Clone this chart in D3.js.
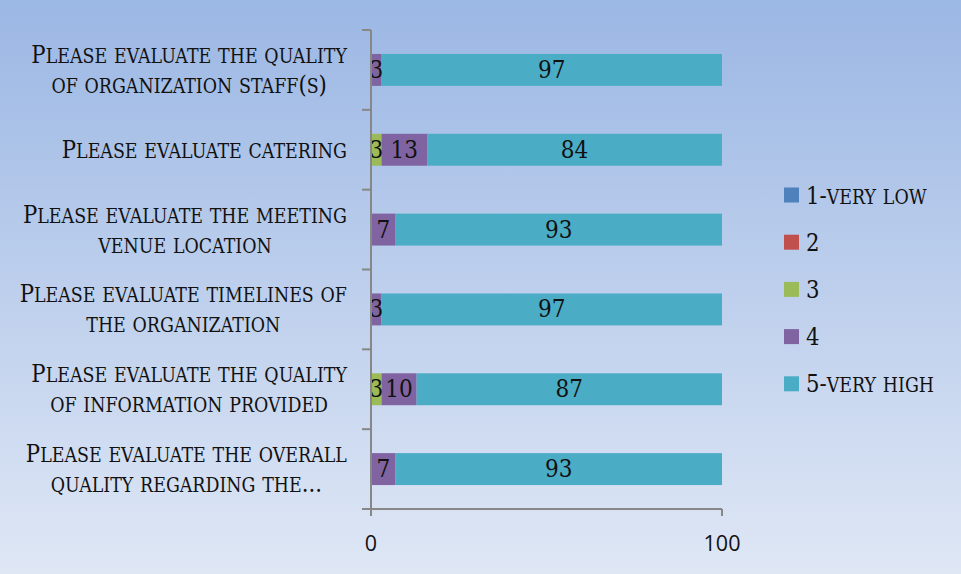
<!DOCTYPE html>
<html>
<head>
<meta charset="utf-8">
<script src="https://cdn.jsdelivr.net/npm/d3@7/dist/d3.min.js"></script>
<style>
  html, body { margin: 0; padding: 0; background: #fff; }
  svg { display: block; }
</style>
</head>
<body>
<svg id="chart" width="961" height="574"></svg>
<script>
// ---- data ----
const categories = [
  "Please evaluate the quality\nof organization staff(s)",
  "Please evaluate catering",
  "Please evaluate the meeting\nvenue location",
  "Please evaluate timelines of\nthe organization",
  "Please evaluate the quality\nof information provided",
  "Please evaluate the overall\nquality regarding the..."
];
const seriesNames = ["1-very low", "2", "3", "4", "5-very high"];
const seriesColors = ["#4F81BD", "#C0504D", "#9BBB59", "#8064A2", "#4BACC6"];
const s1 = [0, 0, 0, 0, 0, 0];
const s2 = [0, 0, 0, 0, 0, 0];
const s3 = [0, 3, 0, 0, 3, 0];
const s4 = [3, 13, 7, 3, 10, 7];
const s5 = [97, 84, 93, 97, 87, 93];
const xTicks = [0, 100];

const seriesValues = [s1, s2, s3, s4, s5];

// ---- setup ----
const W = 961, H = 574;
const svg = d3.select("#chart");
const defs = svg.append("defs");
const grad = defs.append("linearGradient").attr("id", "bg")
  .attr("x1", 0).attr("y1", 0).attr("x2", 0).attr("y2", 1);
grad.append("stop").attr("offset", "0%").attr("stop-color", "#9bb7e4");
grad.append("stop").attr("offset", "100%").attr("stop-color", "#dfe7f5");
svg.append("rect").attr("width", W).attr("height", H).attr("fill", "url(#bg)");

const serif = "'DejaVu Serif', serif";
const sans = "'Open Sans', sans-serif";
const capSize = 25, scRatio = 0.82, condense = 0.85;

const margin = { left: 371, right: 239, top: 30, bottom: 65 };
const x = d3.scaleLinear().domain([0, 100]).range([margin.left, W - margin.right]);
const y = d3.scaleBand().domain(d3.range(categories.length))
  .range([margin.top, H - margin.bottom]).paddingInner(0.6).paddingOuter(0.3);

// small caps helper: capitals full size, lowercase -> uppercase at reduced size
function smallCaps(textSel, str, size, ratio) {
  const runs = [];
  for (const ch of str) {
    const small = ch !== ch.toUpperCase();
    const last = runs[runs.length - 1];
    if (last && last.small === small) last.t += ch; else runs.push({ small, t: ch });
  }
  runs.forEach(r => {
    textSel.append("tspan")
      .attr("font-size", r.small ? size * ratio : size)
      .text(r.t.toUpperCase());
  });
}

// ---- stacked bars ----
const stackData = categories.map((c, i) => {
  const o = { i };
  seriesNames.forEach((s, k) => o[k] = seriesValues[k][i]);
  return o;
});
const stack = d3.stack().keys(d3.range(seriesNames.length))(stackData);

const barG = svg.append("g");
stack.forEach((layer, k) => {
  layer.forEach((d, i) => {
    const v = seriesValues[k][i];
    if (!v) return;
    barG.append("rect")
      .attr("x", x(d[0])).attr("y", y(i))
      .attr("width", x(d[1]) - x(d[0])).attr("height", y.bandwidth())
      .attr("fill", seriesColors[k]);
  });
});
stack.forEach((layer, k) => {
  layer.forEach((d, i) => {
    const v = seriesValues[k][i];
    if (!v) return;
    const cx = (x(d[0]) + x(d[1])) / 2;
    barG.append("text")
      .attr("transform", `translate(${cx},${y(i) + y.bandwidth() / 2 + 8}) scale(0.92,1)`)
      .attr("text-anchor", "middle")
      .attr("font-family", serif)
      .attr("font-size", 23.5)
      .attr("fill", "#111")
      .text(v);
  });
});

// ---- axes ----
const axisColor = "#878787";
const ax = svg.append("g").attr("stroke", axisColor).attr("stroke-width", 2).attr("fill", "none");
const y0 = margin.top, y1 = H - margin.bottom;
ax.append("line").attr("x1", x(0)).attr("x2", x(0)).attr("y1", y0).attr("y2", y1 + 7);
ax.append("line").attr("x1", x(0) - 9).attr("x2", x(100)).attr("y1", y1).attr("y2", y1);
// category boundary ticks
for (let i = 0; i <= categories.length; i++) {
  const yy = margin.top + i * y.step();
  ax.append("line").attr("x1", x(0) - 9).attr("x2", x(0)).attr("y1", yy).attr("y2", yy);
}
xTicks.forEach(t => {
  ax.append("line").attr("x1", x(t)).attr("x2", x(t)).attr("y1", y1).attr("y2", y1 + 7);
  svg.append("text").attr("x", x(t)).attr("y", y1 + 34)
    .attr("dy", "0.35em").attr("text-anchor", "middle")
    .attr("font-family", sans).attr("font-size", 21.5).attr("fill", "#111")
    .text(t);
});

// ---- category labels ----
const labelRight = 347;
categories.forEach((c, i) => {
  const lines = c.split("\n");
  const g = svg.append("g");
  const inner = g.append("g");
  const cy = y(i) + y.bandwidth() / 2;
  const texts = lines.map((ln, j) => {
    const t = inner.append("text")
      .attr("x", 0)
      .attr("y", cy + 8 + (j - (lines.length - 1) / 2) * 30)
      .attr("text-anchor", "middle")
      .attr("font-family", serif)
      .attr("fill", "#111");
    smallCaps(t, ln, capSize, scRatio);
    return t;
  });
  const maxW = d3.max(texts, t => t.node().getComputedTextLength()) * condense;
  inner.attr("transform", `scale(${condense},1)`);
  g.attr("transform", `translate(${labelRight - maxW / 2},0)`);
});

// ---- legend ----
const legend = svg.append("g");
seriesNames.forEach((s, k) => {
  const ly = 195 + k * 47.2;
  legend.append("rect").attr("x", 784).attr("y", ly - 7.5)
    .attr("width", 15).attr("height", 15).attr("fill", seriesColors[k]);
  const t = legend.append("text")
    .attr("transform", `translate(806,${ly + 8.5}) scale(${condense},1)`)
    .attr("font-family", serif).attr("fill", "#111");
  smallCaps(t, s, capSize, scRatio);
});
</script>
</body>
</html>
